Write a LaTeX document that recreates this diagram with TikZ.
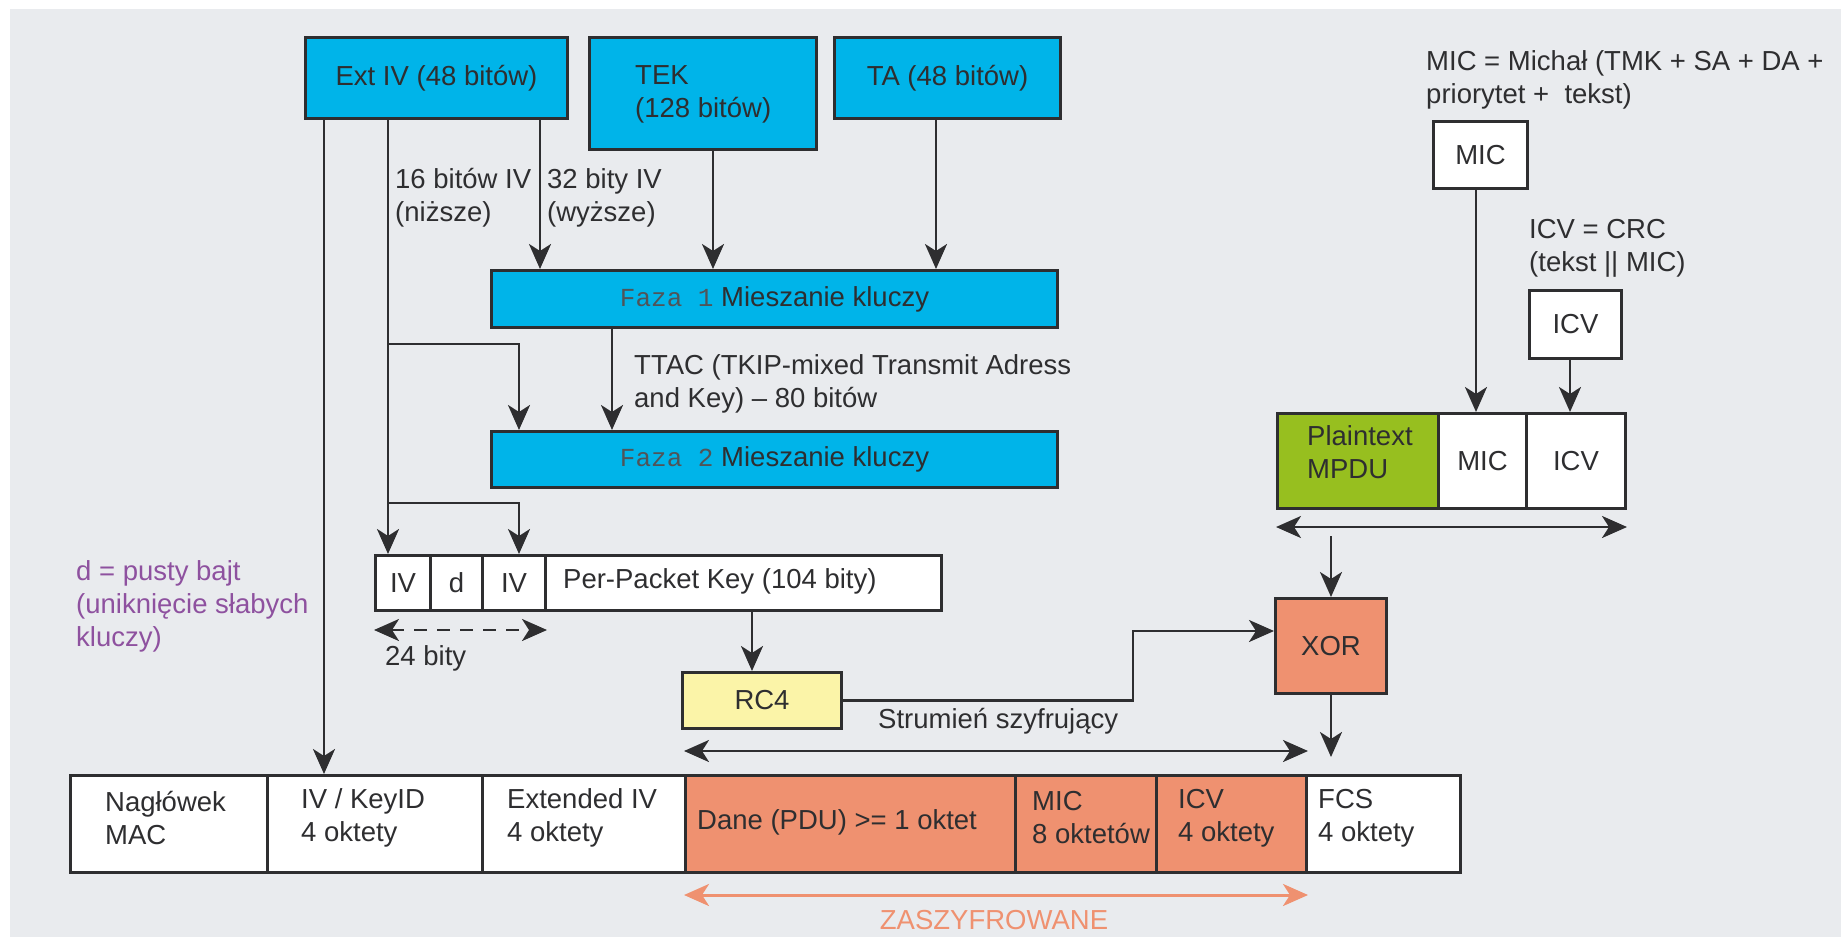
\documentclass[tikz,border=0pt]{standalone}
\usepackage{fontspec}
\setmainfont{Liberation Sans}
\newfontfamily\monofont{Liberation Mono}
\usetikzlibrary{arrows.meta}

\definecolor{bgcol}{HTML}{E9EBEE}
\definecolor{inkcol}{HTML}{2E2E30}
\definecolor{monogray}{HTML}{505458}
\definecolor{keyblue}{HTML}{00B4E9}
\definecolor{plaingreen}{HTML}{97BF1F}
\definecolor{cipherred}{HTML}{EF9170}
\definecolor{rcyellow}{HTML}{FBF4A8}
\definecolor{notepurple}{HTML}{8E519F}

\tikzset{
  txt/.style={font=\fontsize{27.5}{33}\selectfont, text=inkcol},
  cell/.style={draw=inkcol, line width=3pt, anchor=north west, inner sep=0pt, txt},
  keybox/.style={cell, fill=keyblue},
  whitebox/.style={cell, fill=white},
  cipherbox/.style={cell, fill=cipherred},
  lbl/.style={txt, anchor=west, inner sep=0pt, align=left},
  arr/.style={draw=inkcol, line width=2.8pt, ->},
  dbl/.style={draw=inkcol, line width=2.8pt, <->},
}

\begin{document}
\begin{tikzpicture}[x=1pt, y=-1pt, >={Stealth[length=25pt, width=22pt, inset=7pt]}]
  \useasboundingbox (0,0) rectangle (1841,937);
  \fill[white] (0,0) rectangle (1841,937);
  \fill[bgcol] (10,9) rectangle (1841,937);

  % key material
  \node[keybox, minimum width=262pt, minimum height=81pt] (extiv) at (304,36) {Ext IV (48 bitów)};
  \node[keybox, minimum width=227pt, minimum height=112pt] (tek) at (588,36) {};
  \node[lbl] (tektext) at (635,94) {TEK\\(128 bitów)};
  \node[keybox, minimum width=226pt, minimum height=81pt] (ta) at (833,36) {TA (48 bitów)};

  % key mixing phases
  \node[keybox, minimum width=566pt, minimum height=57pt] (faza1) at (490,269)
    {{\monofont\fontsize{26}{30}\selectfont\color{monogray}Faza 1} Mieszanie kluczy};
  \node[keybox, minimum width=566pt, minimum height=56pt] (faza2) at (490,430)
    {{\monofont\fontsize{26}{30}\selectfont\color{monogray}Faza 2} Mieszanie kluczy};

  % per-packet key
  \node[whitebox, minimum width=55pt, minimum height=55pt] (iv1) at (374,554) {IV};
  \node[whitebox, minimum width=52pt, minimum height=55pt] (dcell) at (429,554) {d};
  \node[whitebox, minimum width=63pt, minimum height=55pt] (iv2) at (481,554) {IV};
  \node[whitebox, minimum width=396pt, minimum height=55pt] (ppk) at (544,554) {};
  \node[lbl] (ppktext) at (563,581) {Per-Packet Key (104 bity)};

  % cipher
  \node[cell, fill=rcyellow, minimum width=159pt, minimum height=56pt] (rc4) at (681,671) {RC4};
  \node[cipherbox, minimum width=111pt, minimum height=95pt] (xor) at (1274,597) {XOR};

  % integrity values
  \node[whitebox, minimum width=94pt, minimum height=67pt] (mic) at (1432,120) {MIC};
  \node[whitebox, minimum width=92pt, minimum height=68pt] (icv) at (1528,289) {ICV};

  % plaintext MPDU
  \node[cell, fill=plaingreen, minimum width=161pt, minimum height=95pt] (pt) at (1276,412) {};
  \node[lbl] (pttext) at (1307,452) {Plaintext\\MPDU};
  \node[whitebox, minimum width=88pt, minimum height=95pt] (mic2) at (1437,412) {MIC};
  \node[whitebox, minimum width=99pt, minimum height=95pt] (icv2) at (1525,412) {ICV};

  % transmitted frame
  \node[whitebox, minimum width=197pt, minimum height=97pt] (c1) at (69,774) {};
  \node[whitebox, minimum width=215pt, minimum height=97pt] (c2) at (266,774) {};
  \node[whitebox, minimum width=203pt, minimum height=97pt] (c3) at (481,774) {};
  \node[cipherbox, minimum width=330pt, minimum height=97pt] (c4) at (684,774) {};
  \node[cipherbox, minimum width=141pt, minimum height=97pt] (c5) at (1014,774) {};
  \node[cipherbox, minimum width=150pt, minimum height=97pt] (c6) at (1155,774) {};
  \node[whitebox, minimum width=154pt, minimum height=97pt] (c7) at (1305,774) {};
  \node[lbl] (c1t) at (105,818) {Nagłówek\\MAC};
  \node[lbl] (c2t) at (301,818) {IV / KeyID\\4 oktety};
  \node[lbl] (c3t) at (507,818) {Extended IV\\4 oktety};
  \node[lbl] (c4t) at (697,822) {Dane (PDU) >= 1 oktet};
  \node[lbl] (c5t) at (1032,818) {MIC\\8 oktetów};
  \node[lbl] (c6t) at (1178,818) {ICV\\4 oktety};
  \node[lbl] (c7t) at (1318,818) {FCS\\4 oktety};

  % annotations
  \node[lbl] (lowiv) at (395,198) {16 bitów IV\\(niższe)};
  \node[lbl] (highiv) at (547,198) {32 bity IV\\(wyższe)};
  \node[lbl] (ttac) at (634,384) {TTAC (TKIP-mixed Transmit Adress\\and Key) – 80 bitów};
  \node[lbl] (bits24) at (385,658) {24 bity};
  \node[lbl, text=notepurple] (dnote) at (76,606) {d = pusty bajt\\(uniknięcie słabych\\kluczy)};
  \node[lbl] (stream) at (878,721) {Strumień szyfrujący};
  \node[lbl] (micdef) at (1426,80) {MIC = Michał (TMK + SA + DA +\\priorytet +\ \ tekst)};
  \node[lbl] (icvdef) at (1529,248) {ICV = CRC\\(tekst || MIC)};
  \node[txt, text=cipherred] (enc) at (994,920) {ZASZYFROWANE};

  % guide columns and rows for connectors
  \coordinate (colA) at (324,0);
  \coordinate (colB) at (388,0);
  \coordinate (colC) at (519,0);
  \coordinate (colD) at (540,0);
  \coordinate (colE) at (713,0);
  \coordinate (colF) at (936,0);
  \coordinate (colG) at (612,0);
  \coordinate (colH) at (752,0);
  \coordinate (colI) at (1133,0);
  \coordinate (colM) at (1476,0);
  \coordinate (colN) at (1570,0);
  \coordinate (brA) at (388,344);
  \coordinate (brB) at (388,503);
  \coordinate (rowS) at (0,631);
  \coordinate (rowX) at (0,757);
  \coordinate (rowP) at (0,536);

  % Ext IV split
  \draw[arr] (colA |- extiv.south) -- (colA |- c2.north);
  \draw[arr] (colB |- extiv.south) -- (colB |- iv1.north);
  \draw[arr] (brA) -| (colC |- faza2.north);
  \draw[arr] (brB) -| (colC |- iv2.north);
  \draw[arr] (colD |- extiv.south) -- (colD |- faza1.north);
  \draw[arr] (colE |- tek.south) -- (colE |- faza1.north);
  \draw[arr] (colF |- ta.south) -- (colF |- faza1.north);
  \draw[arr] (colG |- faza1.south) -- (colG |- faza2.north);

  % per-packet key to keystream
  \draw[draw=inkcol, line width=2.8pt, <->, dash pattern=on 13pt off 10pt]
    ([yshift=-18pt]iv1.south west) -- ([yshift=-18pt]iv2.south east);
  \draw[arr] (colH |- ppk.south) -- (colH |- rc4.north);
  \draw[arr] (rc4.east) -| (colI |- rowS) -- (xor.west |- rowS);
  \draw[arr] (xor.south) -- (xor.south |- rowX);
  \draw[dbl] ([yshift=23pt]c4.north west) -- ([yshift=23pt]c6.north east);

  % integrity values into plaintext
  \draw[arr] (colM |- mic.south) -- (colM |- mic2.north);
  \draw[arr] (colN |- icv.south) -- (colN |- icv2.north);
  \draw[dbl] ([yshift=-17pt]pt.south west) -- ([yshift=-17pt]icv2.south east);
  \draw[arr] (xor.north |- rowP) -- (xor.north);

  % encrypted span
  \draw[draw=cipherred, line width=3pt, <->]
    ([yshift=-21pt]c4.south west) -- ([yshift=-21pt]c6.south east);
\end{tikzpicture}
\end{document}
